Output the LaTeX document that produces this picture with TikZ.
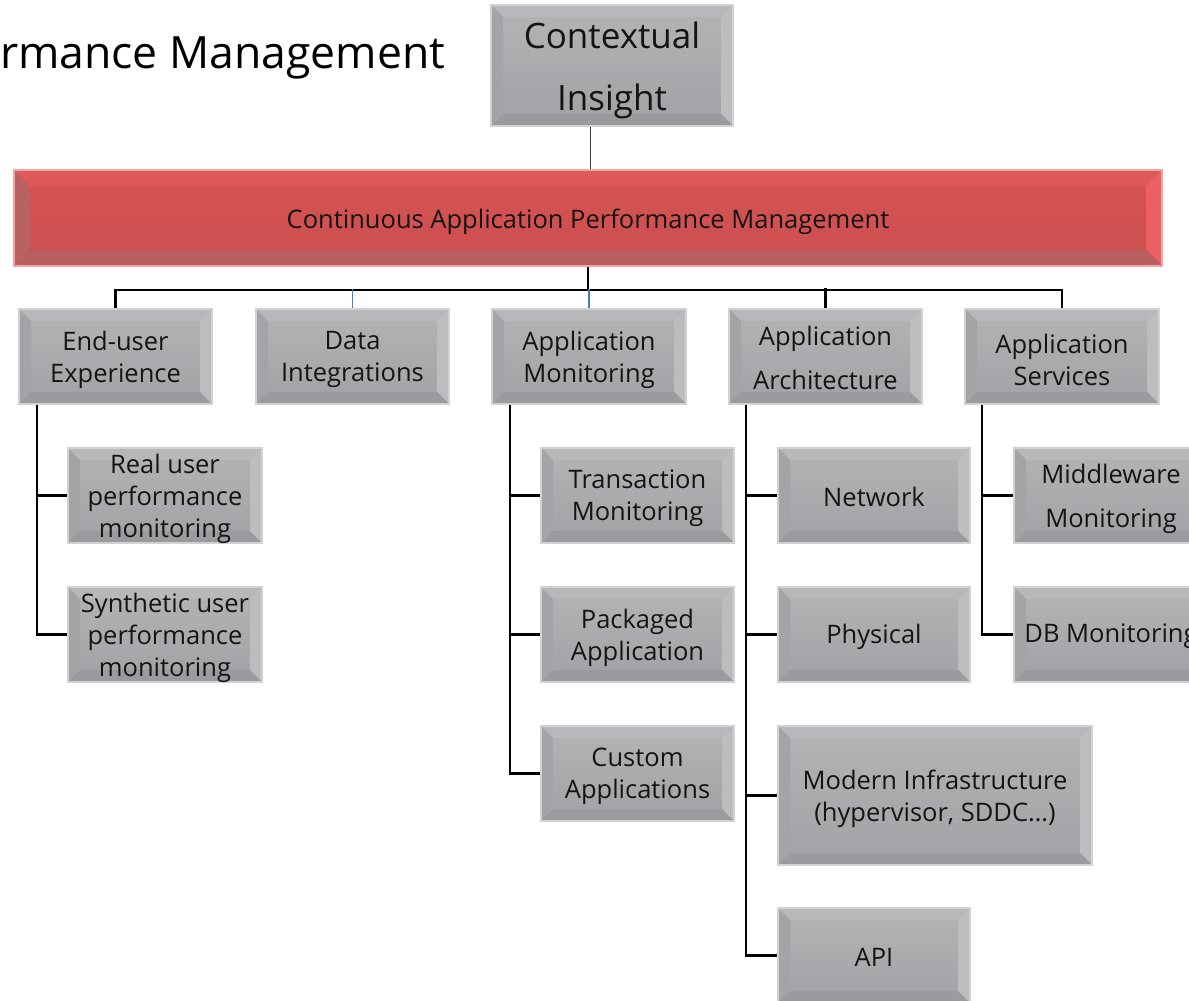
\documentclass[tikz,border=0pt]{standalone}
\usepackage{fontspec}
\setmainfont{Open Sans}
\begin{document}
\definecolor{gtop}{HTML}{B4B3B6}
\definecolor{gbot}{HTML}{A2A1A5}
\definecolor{gbevT}{HTML}{B8B7BA}
\definecolor{gbevL}{HTML}{A4A3A7}
\definecolor{gbevR}{HTML}{BDBCBF}
\definecolor{gbevB}{HTML}{9B9A9E}
\definecolor{gline}{HTML}{D2D2D4}
\definecolor{rtop}{HTML}{D85454}
\definecolor{rbot}{HTML}{CA4E4E}
\definecolor{rbevT}{HTML}{DF5959}
\definecolor{rbevL}{HTML}{BA6262}
\definecolor{rbevR}{HTML}{EC6060}
\definecolor{rbevB}{HTML}{B85E5E}
\definecolor{rline}{HTML}{F4A4A4}
\definecolor{blueline}{HTML}{4A7EBB}
\newcommand\bevfill[5]{%
  \path (path picture bounding box.north west) coordinate (bvnw)
        (path picture bounding box.north east) coordinate (bvne)
        (path picture bounding box.south west) coordinate (bvsw)
        (path picture bounding box.south east) coordinate (bvse);
  \path ([xshift=#5,yshift=-#5]bvnw) coordinate (bvinw)
        ([xshift=-#5,yshift=-#5]bvne) coordinate (bvine)
        ([xshift=#5,yshift=#5]bvsw) coordinate (bvisw)
        ([xshift=-#5,yshift=#5]bvse) coordinate (bvise);
  \fill[#1] (bvnw)--(bvne)--(bvine)--(bvinw)--cycle;
  \fill[#2] (bvnw)--(bvinw)--(bvisw)--(bvsw)--cycle;
  \fill[#3] (bvne)--(bvse)--(bvise)--(bvine)--cycle;
  \fill[#4] (bvsw)--(bvisw)--(bvise)--(bvse)--cycle;
}
\tikzset{
  graybox/.style={rectangle, draw=gline, line width=2pt, top color=gtop, bottom color=gbot,
    inner sep=0pt,
    path picture={\bevfill{gbevT}{gbevL}{gbevR}{gbevB}{12pt}}},
  redbox/.style={rectangle, draw=rline, line width=2pt, top color=rtop, bottom color=rbot,
    inner sep=0pt,
    path picture={\bevfill{rbevT}{rbevL}{rbevR}{rbevB}{16pt}}},
  lbl/.style={inner sep=0pt, align=center, text=black!92,
    font={\fontsize{25.5}{32}\selectfont}},
  wide/.style={font={\fontsize{25.5}{44}\selectfont}},
  conn/.style={line width=2.5pt, black},
  blueconn/.style={line width=1.6pt, blueline},
  thinconn/.style={line width=1pt, black!75},
}
\begin{tikzpicture}[x=1pt,y=-1pt]
\useasboundingbox (0,0) rectangle (1189,1001);
\clip (0,0) rectangle (1189,1001);
\fill[white] (0,0) rectangle (1189,1001);

\node[anchor=base west, inner sep=0pt, font={\fontsize{44.5}{54}\selectfont}] (title) at (0,68) {rmance Management};

\node[graybox, minimum width=242pt, minimum height=121pt] (ci) at (612,65.5) {};
\node[lbl, font={\fontsize{35}{62}\selectfont}] (ci-t) at ([yshift=-5pt]ci.center) {Contextual\\Insight};
\node[redbox, minimum width=1148pt, minimum height=96pt] (capm) at (588,218) {};
\node[lbl] (capm-t) at ([yshift=-4pt]capm.center) {Continuous Application Performance Management};

\node[graybox, minimum width=193pt, minimum height=95pt] (eu) at (115.5,356.5) {};
\node[lbl] (eu-t) at ([yshift=-3pt]eu.center) {End-user\\Experience};
\node[graybox, minimum width=193pt, minimum height=95pt] (di) at (352.5,356.5) {};
\node[lbl] (di-t) at ([yshift=-3pt]di.center) {Data\\Integrations};
\node[graybox, minimum width=194pt, minimum height=95pt] (am) at (589,356.5) {};
\node[lbl] (am-t) at ([yshift=-3pt]am.center) {Application\\Monitoring};
\node[graybox, minimum width=193pt, minimum height=95pt] (aa) at (825.5,356.5) {};
\node[lbl, wide] (aa-t) at ([yshift=-1pt]aa.center) {Application\\Architecture};
\node[graybox, minimum width=194pt, minimum height=95pt] (as) at (1062,356.5) {};
\node[lbl] (as-t) at ([yshift=-3pt]as.center) {Application\\Services};

\node[graybox, minimum width=194pt, minimum height=95pt] (rum) at (165,495.5) {};
\node[lbl] (rum-t) at ([yshift=-3pt]rum.center) {Real user\\performance\\monitoring};
\node[graybox, minimum width=194pt, minimum height=95pt] (sum) at (165,634.5) {};
\node[lbl] (sum-t) at ([yshift=-3pt]sum.center) {Synthetic user\\performance\\monitoring};

\node[graybox, minimum width=193pt, minimum height=95pt] (tm) at (637.5,495.5) {};
\node[lbl] (tm-t) at ([yshift=-3pt]tm.center) {Transaction\\Monitoring};
\node[graybox, minimum width=193pt, minimum height=95pt] (pa) at (637.5,634.5) {};
\node[lbl] (pa-t) at ([yshift=-3pt]pa.center) {Packaged\\Application};
\node[graybox, minimum width=193pt, minimum height=95pt] (ca) at (637.5,773.5) {};
\node[lbl] (ca-t) at ([yshift=-3pt]ca.center) {Custom\\Applications};

\node[graybox, minimum width=192pt, minimum height=95pt] (net) at (874,495.5) {};
\node[lbl] (net-t) at ([yshift=-1pt]net.center) {Network};
\node[graybox, minimum width=192pt, minimum height=95pt] (phy) at (874,634.5) {};
\node[lbl] (phy-t) at ([yshift=-2pt]phy.center) {Physical};
\node[graybox, minimum width=314pt, minimum height=139pt] (mi) at (935,795.5) {};
\node[lbl] (mi-t) at ([yshift=-3pt]mi.center) {Modern Infrastructure\\(hypervisor, SDDC…)};
\node[graybox, minimum width=192pt, minimum height=95pt] (api) at (874,955.5) {};
\node[lbl] (api-t) at ([yshift=-2pt]api.center) {API};

\node[graybox, minimum width=194pt, minimum height=95pt] (mw) at (1111,495.5) {};
\node[lbl, wide] (mw-t) at ([yshift=-3pt]mw.center) {Middleware\\Monitoring};
\node[graybox, minimum width=194pt, minimum height=95pt] (db) at (1111,634.5) {};
\node[lbl] (db-t) at ([yshift=-2pt]db.center) {DB Monitoring};

% connectors
\draw[thinconn] ([xshift=2pt]capm.north) -- ([xshift=2pt]capm.north |- ci.south);
\draw[conn] (capm.south) -- ++(0,23) -| (eu.north);
\draw[conn] (capm.south) ++(0,23) -| (as.north);
\draw[conn] (aa.north) -- ++(0,-20);
\draw[blueconn] (di.north) -- ++(0,-19);
\draw[blueconn] (am.north) -- ++(0,-19);

\draw[conn] ([xshift=19pt]eu.south west) |- (rum.west);
\draw[conn] ([xshift=19pt]eu.south west) |- (sum.west);

\draw[conn] ([xshift=19pt]am.south west) |- (tm.west);
\draw[conn] ([xshift=19pt]am.south west) |- (pa.west);
\draw[conn] ([xshift=19pt]am.south west) |- (ca.west);

\draw[conn] ([xshift=18pt]aa.south west) |- (net.west);
\draw[conn] ([xshift=18pt]aa.south west) |- (phy.west);
\draw[conn] ([xshift=18pt]aa.south west) |- (mi.west);
\draw[conn] ([xshift=18pt]aa.south west) |- (api.west);

\draw[conn] ([xshift=18pt]as.south west) |- (mw.west);
\draw[conn] ([xshift=18pt]as.south west) |- (db.west);
\end{tikzpicture}
\end{document}
